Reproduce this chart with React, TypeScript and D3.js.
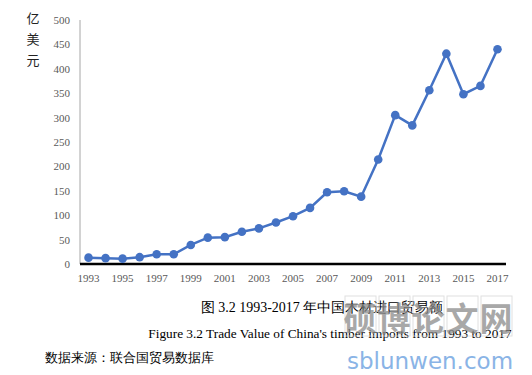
import React from "react";
import * as d3 from "d3";

const years = [
  "1993","1994","1995","1996","1997","1998","1999","2000","2001","2002","2003","2004","2005",
  "2006","2007","2008","2009","2010","2011","2012","2013","2014","2015","2016","2017",
];
const values = [13, 12, 11, 14, 20, 20, 39, 54, 55, 66, 73, 85, 98, 115, 147, 149, 138, 214, 305, 284, 356, 431, 348, 365, 440];
const yTicks = [0, 50, 100, 150, 200, 250, 300, 350, 400, 450, 500];
const xLabels = ["1993","1995","1997","1999","2001","2003","2005","2007","2009","2011","2013","2015","2017"];
const unitChars = ["亿", "美", "元"];
const captionCn = "图 3.2 1993-2017 年中国木材进口贸易额";
const captionEn = "Figure 3.2 Trade Value of China's timber imports from 1993 to 2017";
const source = "数据来源：联合国贸易数据库";
const wmChars = ["硕", "博", "论", "文", "网"];
const wmUrl = "sblunwen.com";

export default function App() {
  const W = 532, H = 375;
  const left = 80, right = 506, top = 20, bottom = 264;
  const x = d3.scaleBand<string>().domain(years).range([left, right]);
  const y = d3.scaleLinear().domain([0, 500]).range([bottom, top]);
  const cx = (d: string) => (x(d) as number) + x.bandwidth() / 2;
  const line = d3.line<number>().x((_, i) => cx(years[i])).y((v) => y(v));
  const serif = "'Liberation Serif', 'Times New Roman', serif";
  const cjk = "'Noto Sans CJK SC', sans-serif";
  return (
    <svg width={W} height={H} style={{ position: "absolute", left: 0, top: 0, background: "#fff" }}>
      {unitChars.map((c, i) => (
        <text key={c} x={33} y={23 + i * 21} fontSize={13} fontFamily={cjk} textAnchor="middle" fill="#222">{c}</text>
      ))}
      {yTicks.map((t) => (
        <text key={t} x={70} y={y(t) + 4} fontSize={11} fontFamily={serif} textAnchor="end" fill="#595959">{t}</text>
      ))}
      <line x1={left} x2={left} y1={top} y2={bottom} stroke="#a6a6a6" strokeWidth={1} />
      <line x1={left} x2={right} y1={bottom} y2={bottom} stroke="#000" strokeWidth={2.5} />
      {xLabels.map((l) => (
        <text key={l} x={cx(l)} y={282} fontSize={11} fontFamily={serif} textAnchor="middle" fill="#595959">{l}</text>
      ))}
      <path d={line(values) || ""} fill="none" stroke="#4472C4" strokeWidth={2.5} />
      {values.map((v, i) => (
        <circle key={i} cx={cx(years[i])} cy={y(v)} r={4.3} fill="#4472C4" />
      ))}
      <text x={322} y={312} fontSize={14} fontFamily={serif} textAnchor="middle" fill="#000">{captionCn}</text>
      <text x={330} y={338} fontSize={13.3} fontFamily={serif} textAnchor="middle" fill="#000">{captionEn}</text>
      <text x={45} y={362} fontSize={13} fontFamily={serif} fill="#000">{source}</text>
      {/* watermark */}
      <g opacity={0.75}>
        {wmChars.map((c, i) => (
          <g key={c}>
            <rect x={345 + i * 34} y={296} width={31} height={40} fill="none" stroke="#d6d6d6" strokeWidth={1} />
            <text x={360 + i * 34} y={331} fontSize={33} fontFamily={cjk} fontWeight="bold" textAnchor="middle" fill="#8c8c8c">{c}</text>
          </g>
        ))}
      </g>
      <text x={430} y={369} fontSize={23} fontFamily="'DejaVu Sans', sans-serif" textAnchor="middle" fill="#8ab4e6">{wmUrl}</text>
    </svg>
  );
}
